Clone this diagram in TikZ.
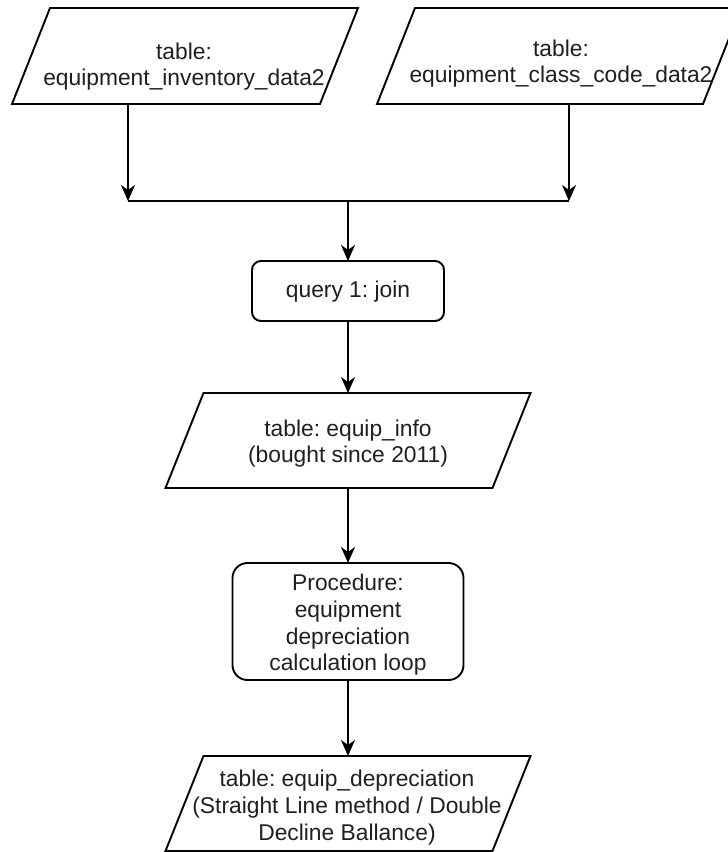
\documentclass[tikz,border=0pt]{standalone}
\usepackage{fontspec}
\setmainfont{Liberation Sans}
\usetikzlibrary{arrows.meta,calc}
\frenchspacing
\begin{document}
\begin{tikzpicture}[x=1pt,y=-1pt,
  every node/.style={inner sep=0pt, outer sep=0pt},
  geo/.style n args={2}{minimum width=#1pt, minimum height=#2pt},
  rbox/.style={draw, line width=1.9pt},
  para/.style={draw, line width=1.9pt, line join=miter},
  lbl/.style={align=center, font=\fontsize{22.8}{26.7}\selectfont, text=black!88},
  arr/.style={line width=1.9pt, -{Stealth[length=16pt, width=14pt, inset=5pt]}},
  wire/.style={line width=1.9pt}
]
\useasboundingbox (0,0) rectangle (728,852);
\clip (0,0) rectangle (728,852);

% geometry nodes
\node[geo={308}{96}] (inv) at (185,56) {};
\node[geo={326}{96}] (cls) at (559,56) {};
\node[geo={192}{60}, rbox, rounded corners=9pt] (q1) at (348,291) {};
\node[geo={327}{95}] (info) at (348,440.5) {};
\node[geo={231}{117}, rbox, rounded corners=15pt] (proc) at (348,621.5) {};
\node[geo={327}{95}] (dep) at (348,803.5) {};

% parallelograms
\foreach \n in {inv,cls,info,dep}{
  \draw[para] ([xshift=19pt]\n.north west) -- ([xshift=19pt]\n.north east)
     -- ([xshift=-19pt]\n.south east) -- ([xshift=-19pt]\n.south west) -- cycle;
}

% labels
\node[lbl] (invt) at (184,66.5) {table:\\equipment\_inventory\_data2};
\node[lbl] (clst) at (561,63.5) {table:\\equipment\_class\_code\_data2};
\node[lbl] (q1t) at (348,292) {query 1: join};
\node[lbl] (infot) at (348,443.5) {table: equip\_info\\(bought since 2011)};
\node[lbl] (proct) at (348,625) {Procedure:\\equipment\\depreciation\\calculation loop};
\node[lbl] (dept) at (347,807.5) {table: equip\_depreciation\\(Straight Line method / Double\\Decline Ballance)};

% connectors
\coordinate (jl) at (128,201);
\coordinate (jr) at (569,201);
\coordinate (jm) at (348,201);
\draw[arr] (inv.south -| jl) -- (jl);
\draw[arr] (cls.south -| jr) -- (jr);
\draw[wire] (jl) -- (jr);
\draw[arr] (jm) -- (q1.north);
\draw[arr] (q1.south) -- (info.north);
\draw[arr] (info.south) -- (proc.north);
\draw[arr] (proc.south) -- (dep.north);
\end{tikzpicture}
\end{document}
